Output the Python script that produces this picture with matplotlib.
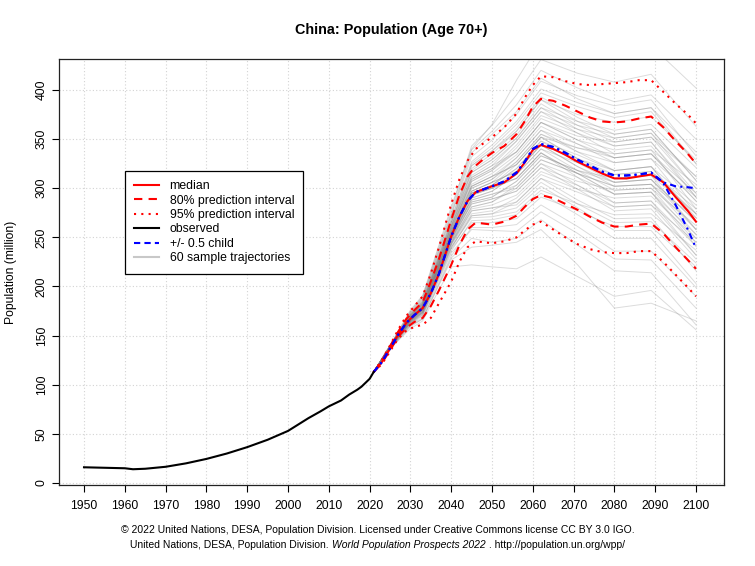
import matplotlib
matplotlib.use("Agg")
import matplotlib.pyplot as plt
from matplotlib.lines import Line2D

plt.rcParams['font.family'] = ['Liberation Sans', 'DejaVu Sans']

# observed series (million)
obs_years = [1950, 1955, 1960, 1962, 1965, 1970, 1975, 1980, 1985, 1990, 1995,
             2000, 2005, 2008, 2010, 2013, 2015, 2017, 2018, 2019, 2020, 2021]
obs_pop = [16, 15.5, 15, 14, 14.5, 16.5, 20, 24.5, 30, 36.5, 44,
           53, 66, 73, 78, 84, 90, 95, 98, 102, 106, 113]

# projections
proj_years = [2021, 2023, 2025, 2027, 2029, 2031, 2033, 2035, 2037, 2040, 2042,
              2044, 2046, 2048, 2050, 2053, 2056, 2058, 2060, 2062, 2065, 2068,
              2071, 2074, 2077, 2080, 2083, 2086, 2089, 2092, 2095, 2098, 2100]
median = [113, 123, 137, 151, 163, 171, 178, 193, 213, 251, 271,
          287, 296, 299, 302, 306, 315, 326, 339, 344, 340, 334,
          327, 321, 315, 310, 310, 312, 314, 306, 291, 277, 266]
pi80_lo = [113, 122, 135, 149, 158, 164, 168, 180, 196, 222, 242,
           258, 265, 264, 263, 266, 272, 281, 289, 293, 290, 284,
           278, 271, 265, 261, 261, 263, 264, 254, 240, 227, 218]
pi80_hi = [113, 124, 139, 154, 167, 176, 184, 205, 228, 268, 293,
           312, 323, 330, 336, 343, 355, 368, 383, 391, 389, 384,
           378, 372, 368, 367, 368, 371, 373, 362, 348, 335, 325]
pi95_lo = [113, 121, 134, 147, 155, 159, 161, 168, 183, 205, 225,
           240, 246, 245, 244, 246, 250, 257, 263, 266, 258, 250,
           243, 238, 235, 234, 234, 236, 236, 225, 212, 199, 190]
pi95_hi = [113, 125, 140, 156, 170, 180, 190, 213, 240, 284, 309,
           328, 340, 346, 352, 362, 376, 392, 405, 414, 413, 409,
           406, 405, 406, 407, 408, 410, 410, 398, 386, 375, 366]
child_hi = [113, 123, 137, 151, 163, 171, 178, 193, 213, 251, 271,
            287, 296, 299, 302, 307, 316, 327, 340, 345, 342, 336,
            329, 323, 317, 313, 313, 314, 316, 306, 302, 301, 300]
child_lo = [113, 123, 137, 151, 163, 171, 178, 193, 213, 251, 271,
            287, 296, 299, 302, 307, 316, 327, 340, 345, 342, 336,
            329, 323, 317, 313, 313, 314, 316, 305, 283, 258, 239]

# 60 sample trajectories
traj_years = [2021, 2026, 2030, 2033, 2040, 2045, 2050, 2056, 2062, 2071, 2080, 2089, 2100]
trajectories = [
    [113, 144, 167, 178, 252, 295, 303, 320, 348, 326, 306, 309, 258],
    [113, 145, 169, 181, 258, 309, 320, 344, 374, 360, 351, 356, 312],
    [113, 143, 165, 176, 247, 284, 289, 297, 321, 299, 277, 279, 228],
    [113, 146, 172, 185, 268, 327, 344, 368, 401, 387, 376, 382, 337],
    [113, 142, 163, 171, 238, 265, 265, 269, 291, 277, 261, 261, 220],
    [113, 144, 168, 179, 255, 302, 312, 331, 359, 337, 318, 322, 266],
    [113, 144, 166, 177, 249, 293, 300, 317, 344, 330, 318, 322, 283],
    [113, 145, 170, 183, 262, 318, 332, 354, 386, 364, 347, 352, 300],
    [113, 143, 164, 174, 243, 277, 280, 286, 310, 288, 269, 270, 216],
    [113, 145, 168, 180, 256, 295, 303, 310, 336, 315, 294, 296, 245],
    [113, 147, 174, 189, 275, 339, 358, 385, 420, 402, 388, 395, 350],
    [113, 141, 160, 167, 229, 249, 245, 249, 268, 242, 216, 214, 161],
    [113, 144, 167, 178, 252, 288, 294, 300, 325, 303, 281, 283, 232],
    [113, 145, 169, 182, 260, 307, 318, 337, 367, 349, 339, 343, 291],
    [113, 143, 165, 175, 245, 286, 291, 307, 333, 318, 306, 309, 266],
    [113, 144, 167, 179, 253, 300, 309, 327, 355, 341, 331, 335, 295],
    [113, 143, 163, 173, 240, 270, 271, 276, 298, 284, 273, 274, 237],
    [113, 146, 171, 184, 265, 320, 335, 358, 390, 375, 367, 373, 329],
    [113, 144, 166, 176, 248, 290, 297, 314, 340, 318, 298, 300, 249],
    [113, 145, 169, 180, 257, 302, 312, 324, 352, 330, 310, 313, 258],
    [113, 147, 176, 191, 281, 340, 365, 410, 450, 445, 440, 445, 402],
    [113, 141, 157, 165, 220, 222, 220, 218, 230, 210, 190, 196, 156],
    [113, 141, 159, 167, 227, 240, 242, 245, 258, 222, 178, 183, 165],
    [113, 145, 170, 182, 261, 313, 326, 348, 378, 356, 335, 339, 279],
    [113, 143, 165, 174, 244, 281, 286, 300, 325, 311, 294, 296, 253],
    [113, 146, 173, 187, 272, 332, 349, 375, 409, 394, 384, 390, 333],
    [113, 142, 161, 170, 234, 258, 257, 256, 276, 254, 228, 227, 178],
    [113, 144, 167, 178, 252, 297, 306, 317, 344, 322, 302, 304, 253],
    [113, 144, 168, 179, 255, 295, 303, 324, 352, 341, 335, 339, 304],
    [113, 144, 167, 177, 251, 288, 294, 303, 329, 315, 302, 304, 270],
    [113, 145, 171, 183, 264, 323, 338, 361, 393, 372, 355, 360, 308],
    [113, 143, 164, 173, 242, 274, 277, 290, 314, 299, 290, 292, 249],
    [113, 145, 168, 180, 256, 307, 318, 341, 371, 356, 343, 347, 295],
    [113, 144, 166, 177, 249, 286, 291, 307, 333, 318, 310, 313, 274],
    [113, 146, 172, 186, 269, 325, 341, 365, 397, 383, 372, 378, 325],
    [113, 143, 163, 172, 239, 272, 274, 280, 302, 280, 257, 257, 203],
    [113, 145, 169, 181, 259, 304, 315, 334, 363, 345, 326, 330, 274],
    [113, 143, 165, 176, 247, 290, 297, 314, 340, 326, 314, 317, 279],
    [113, 144, 167, 179, 253, 293, 300, 310, 336, 311, 285, 287, 232],
    [113, 145, 170, 182, 261, 316, 329, 351, 382, 368, 359, 365, 321],
    [113, 143, 165, 174, 244, 279, 283, 293, 317, 303, 285, 287, 241],
    [113, 144, 168, 179, 255, 302, 312, 324, 352, 330, 314, 317, 274],
    [113, 146, 173, 188, 273, 336, 355, 378, 412, 391, 376, 382, 325],
    [113, 142, 162, 171, 236, 267, 268, 273, 295, 273, 249, 249, 199],
    [113, 144, 167, 178, 252, 300, 309, 331, 359, 345, 331, 335, 287],
    [113, 144, 166, 176, 248, 284, 289, 297, 321, 307, 298, 300, 262],
    [113, 145, 169, 180, 257, 309, 320, 337, 367, 353, 347, 352, 312],
    [113, 143, 165, 175, 245, 281, 286, 303, 329, 315, 302, 304, 258],
    [113, 146, 171, 184, 265, 316, 329, 351, 382, 360, 343, 347, 291],
    [113, 142, 161, 168, 231, 260, 260, 263, 283, 261, 236, 236, 190],
    [113, 145, 169, 182, 260, 311, 323, 348, 378, 364, 355, 360, 308],
    [113, 144, 167, 177, 251, 295, 303, 320, 348, 334, 318, 322, 270],
    [113, 147, 175, 190, 278, 343, 364, 395, 431, 417, 408, 416, 363],
    [113, 143, 164, 174, 243, 277, 280, 283, 306, 284, 265, 266, 224],
    [113, 145, 168, 180, 256, 297, 306, 317, 344, 322, 306, 309, 266],
    [113, 146, 171, 185, 266, 323, 338, 358, 390, 368, 351, 356, 300],
    [113, 144, 166, 177, 249, 293, 300, 310, 336, 315, 294, 296, 241],
    [113, 145, 170, 183, 262, 311, 323, 337, 367, 349, 331, 335, 287],
    [113, 143, 163, 173, 240, 272, 274, 286, 310, 296, 281, 283, 245],
    [113, 144, 167, 178, 252, 297, 306, 327, 355, 337, 326, 330, 291],
]

x_ticks = list(range(1950, 2101, 10))
y_ticks = list(range(0, 401, 50))

fig = plt.figure(figsize=(7.55, 5.66), dpi=100)
ax = fig.add_axes([59 / 755, 81 / 566, 665 / 755, 426 / 566])

# grid first so data sits above it
for xt in x_ticks:
    ax.axvline(xt, color='#d3d3d3', lw=0.8, ls=(0, (1, 2)), zorder=0)
for yt in y_ticks:
    ax.axhline(yt, color='#d3d3d3', lw=0.8, ls=(0, (1, 2)), zorder=0)

for tr in trajectories:
    ax.plot(traj_years, tr, color='#808080', lw=0.7, alpha=0.28, zorder=1)

dashed = (0, (4, 3))
dotted = (0, (1, 2.5))
dotdash = (0, (3, 2, 1, 2))
ax.plot(proj_years, pi95_lo, color='red', lw=1.5, ls=dotted, zorder=3)
ax.plot(proj_years, pi95_hi, color='red', lw=1.5, ls=dotted, zorder=3)
ax.plot(proj_years, pi80_lo, color='red', lw=1.5, ls=dashed, zorder=3)
ax.plot(proj_years, pi80_hi, color='red', lw=1.5, ls=dashed, zorder=3)
ax.plot(proj_years, median, color='red', lw=1.5, zorder=4)
ax.plot(proj_years, child_hi, color='blue', lw=1.5, ls=dotdash, zorder=5)
ax.plot(proj_years, child_lo, color='blue', lw=1.5, ls=dotdash, zorder=5)
ax.plot(obs_years, obs_pop, color='black', lw=1.5, zorder=6)

ax.set_xlim(1943.87, 2106.86)
ax.set_ylim(-2.04, 431.55)
ax.set_xticks(x_ticks)
ax.set_yticks(y_ticks)
ax.tick_params(direction='out', length=5, width=0.8, labelsize=8.7, pad=6)
ax.tick_params(axis='y', labelrotation=90, pad=3)
for lab in ax.get_yticklabels():
    lab.set_va('center')
for sp in ax.spines.values():
    sp.set_color('#222222')
    sp.set_linewidth(0.9)

fig.text(391.5 / 755, 1 - 30 / 566, 'China: Population (Age 70+)', ha='center',
         va='center', fontsize=10.4, fontweight='bold')
fig.text(11 / 755, 1 - 272 / 566, 'Population (million)', rotation=90,
         ha='center', va='center', fontsize=8.7)

handles = [
    Line2D([], [], color='red', lw=1.5),
    Line2D([], [], color='red', lw=1.5, ls=dashed),
    Line2D([], [], color='red', lw=1.5, ls=dotted),
    Line2D([], [], color='black', lw=1.5),
    Line2D([], [], color='blue', lw=1.5, ls=(0, (3, 2))),
    Line2D([], [], color='#c8c8c8', lw=1.5),
]
labels = ['median', '80% prediction interval', '95% prediction interval',
          'observed', '+/- 0.5 child', '60 sample trajectories']
leg = fig.legend(handles, labels, loc='upper left',
                 bbox_to_anchor=(125 / 755, 1 - 171 / 566),
                 bbox_transform=fig.transFigure, fontsize=8.8, fancybox=False,
                 framealpha=1, edgecolor='black', borderaxespad=0,
                 handlelength=2.0, handletextpad=0.9, labelspacing=0.2,
                 borderpad=0.75)
leg.get_frame().set_linewidth(0.9)

# footer
fig.text(377.5 / 755, 1 - 530 / 566,
         '\u00a9 2022 United Nations, DESA, Population Division. Licensed under '
         'Creative Commons license CC BY 3.0 IGO.', ha='center', va='center',
         fontsize=7.5)
parts = [('United Nations, DESA, Population Division. ', 'normal'),
         ('World Population Prospects 2022', 'italic'),
         (' . http://population.un.org/wpp/', 'normal')]
renderer = fig.canvas.get_renderer()
texts = []
widths = []
for s, st in parts:
    t = fig.text(0, 1 - 545 / 566, s, fontsize=7.5, style=st, va='center', ha='left')
    texts.append(t)
    widths.append(t.get_window_extent(renderer).width)
x0 = 377.5 - sum(widths) / 2
for t, w in zip(texts, widths):
    t.set_x(x0 / 755)
    x0 += w

fig.savefig('out.png', dpi=100)
